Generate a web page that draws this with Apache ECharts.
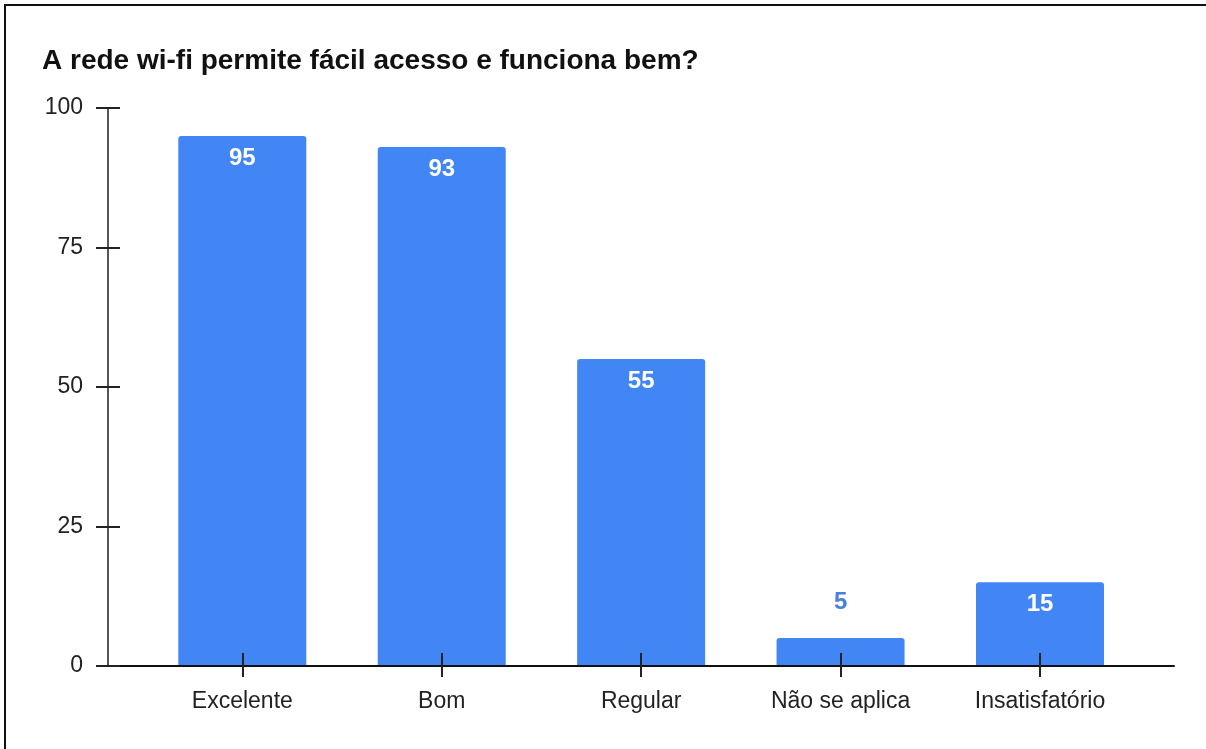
<!DOCTYPE html>
<html>
<head>
<meta charset="utf-8">
<script src="https://cdn.jsdelivr.net/npm/echarts@6/dist/echarts.min.js"></script>
<style>
  html, body { margin: 0; padding: 0; background: #fff; }
  #frame { position: absolute; left: 4px; top: 4px; width: 1202px; height: 745px; border-top: 2px solid #111; border-left: 2px solid #111; box-sizing: border-box; }
  #chart { position: absolute; left: 0; top: 0; width: 1206px; height: 749px; }
</style>
</head>
<body>
<div id="frame"></div>
<div id="chart"></div>
<script>
const titleText = 'A rede wi-fi permite fácil acesso e funciona bem?';
const categories = ['Excelente', 'Bom', 'Regular', 'Não se aplica', 'Insatisfatório'];
const values = [95, 93, 55, 5, 15];
const yTicks = [0, 25, 50, 75, 100];

const barColor = '#4285F4';
const idx = categories.map((c, i) => i);
const barData = values.map((v, i) => {
  const outside = v < 10;
  return {
    value: [i, v],
    label: outside
      ? { position: 'top', distance: 24, color: '#4A80DC' }
      : { position: 'insideTop', distance: 10, color: '#ffffff' }
  };
});

const FONT = 'Liberation Sans, Arial, sans-serif';
const chart = echarts.init(document.getElementById('chart'));
const xCommon = {
  type: 'value', min: -0.6735, max: 4.672,
  splitLine: { show: false }, z: 5
};
const yCommon = {
  type: 'value', min: 0, max: 100, interval: 25,
  splitLine: { show: false }, z: 5
};
chart.setOption({
  animation: false,
  title: {
    text: titleText, left: 37, top: 42,
    textStyle: { fontFamily: FONT, fontWeight: 'bold', fontSize: 28, color: '#111' }
  },
  grid: { left: 108, right: 32, top: 108, bottom: 83, containLabel: false },
  xAxis: [
    Object.assign({}, xCommon, {
      position: 'bottom',
      axisLine: { show: true, onZero: false, lineStyle: { color: '#111', width: 2 } },
      axisTick: { show: true, inside: false, length: 11, customValues: idx, lineStyle: { color: '#222', width: 2 } },
      axisLabel: {
        show: true, customValues: idx, margin: 24,
        formatter: v => categories[Math.round(v)],
        fontFamily: FONT, fontSize: 23, color: '#222'
      }
    }),
    Object.assign({}, xCommon, {
      position: 'bottom',
      axisLine: { show: false, onZero: false },
      axisTick: { show: true, inside: true, length: 13, customValues: idx, lineStyle: { color: '#222', width: 2 } },
      axisLabel: { show: false }
    })
  ],
  yAxis: [
    Object.assign({}, yCommon, {
      position: 'left',
      axisLine: { show: true, onZero: false, lineStyle: { color: '#555', width: 2 } },
      axisTick: { show: true, inside: false, length: 12, lineStyle: { color: '#222', width: 2 } },
      axisLabel: {
        show: true, margin: 25, fontFamily: FONT, fontSize: 23, color: '#222'
      }
    }),
    Object.assign({}, yCommon, {
      position: 'left',
      axisLine: { show: false, onZero: false },
      axisTick: { show: true, inside: true, length: 12, lineStyle: { color: '#222', width: 2 } },
      axisLabel: { show: false }
    })
  ],
  series: [{
    type: 'bar',
    xAxisIndex: 0, yAxisIndex: 0,
    data: barData,
    barWidth: 128,
    itemStyle: { color: barColor, borderRadius: [3, 3, 0, 0] },
    label: {
      show: true, formatter: p => p.value[1],
      fontFamily: FONT, fontWeight: 'bold', fontSize: 24
    },
    z: 1
  }]
});
</script>
</body>
</html>
